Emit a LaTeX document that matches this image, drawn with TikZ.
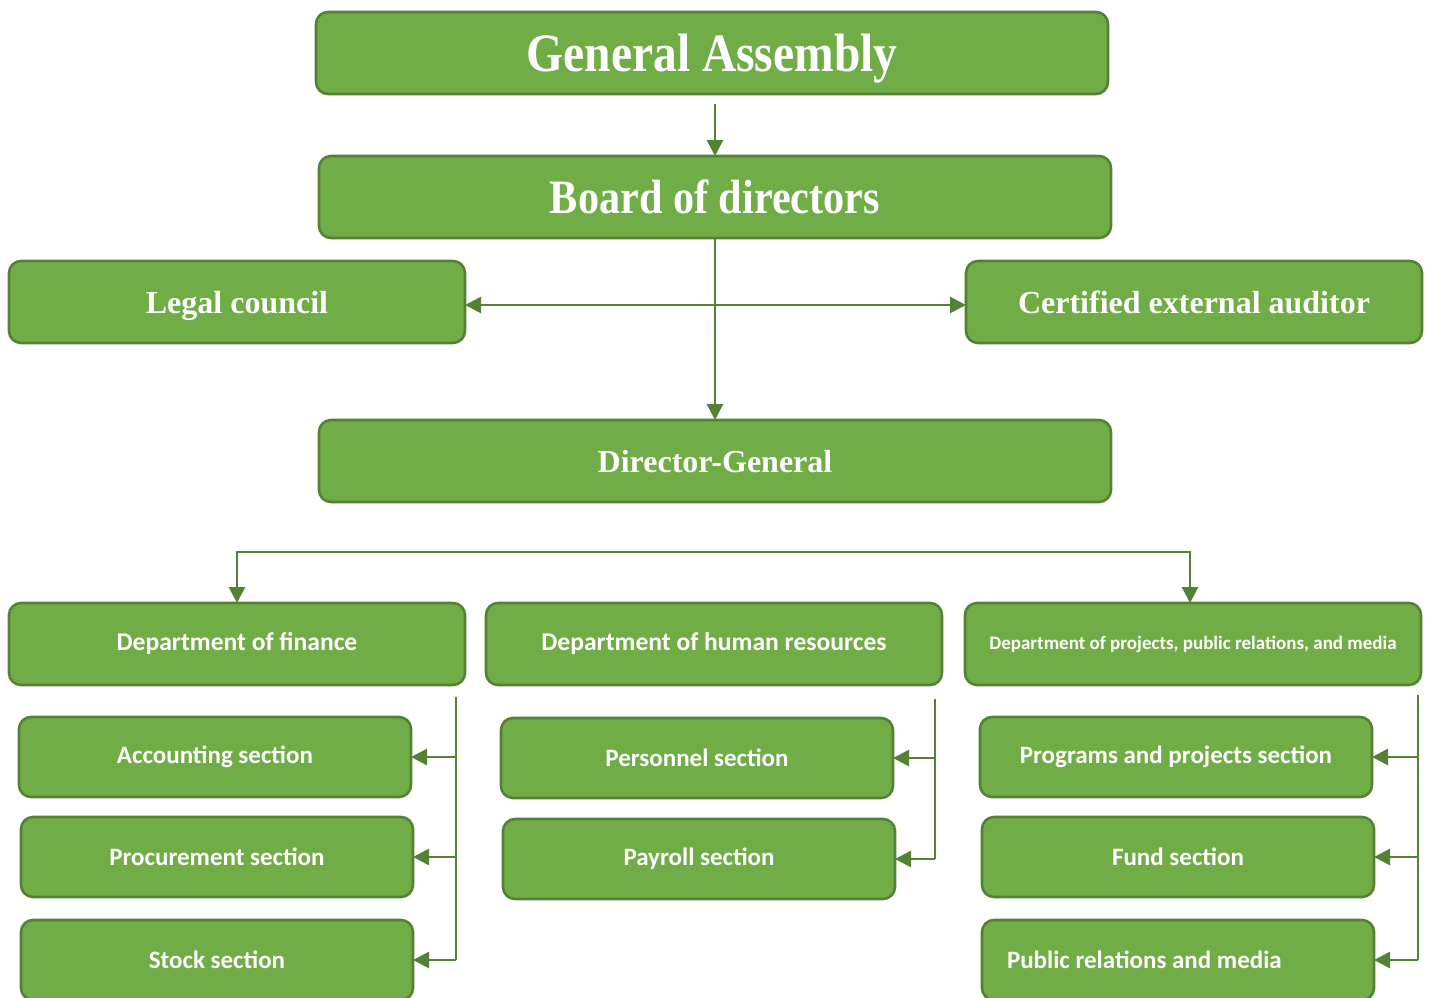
\documentclass[tikz,border=0pt]{standalone}
\usepackage{fontspec}
\setmainfont{Liberation Serif}
\newfontfamily\narrowserif[FakeStretch=0.88]{Liberation Serif}
\newfontfamily\secfont{Carlito}
\usetikzlibrary{arrows.meta}
\definecolor{boxgreen}{HTML}{70AD47}
\definecolor{linegreen}{HTML}{548235}
\tikzset{
  box/.style={draw=linegreen, fill=boxgreen, line width=1.3pt, rounded corners=6pt,
    text=white, font=\bfseries, outer sep=0pt, minimum height=41pt},
  top/.style={box, text depth=0pt, font=\narrowserif\bfseries\fontsize{#1}{#1}\selectfont},
  mid/.style={box, text depth=0pt, font=\bfseries\fontsize{16}{20}\selectfont},
  dept/.style={box, font=\secfont\bfseries\fontsize{#1}{#1}\selectfont, minimum width=228pt},
  sect/.style={box, font=\secfont\bfseries\fontsize{12.5}{15}\selectfont, minimum width=196pt, minimum height=40pt},
  link/.style={draw=linegreen, line width=1.4pt},
  tip/.style={Triangle[length=8pt,width=8pt]},
  arr/.style={link, -{Triangle[length=8pt,width=8pt]}},
  twoarr/.style={link, {Triangle[length=8pt,width=8pt]}-{Triangle[length=8pt,width=8pt]}}
}
\begin{document}
\begin{tikzpicture}[x=0.5pt,y=-0.5pt]
  \useasboundingbox (0,0) rectangle (1430,997);
  \node[top=27, minimum width=396pt] (ga) at (712,53) {General Assembly};
  \node[top=24, minimum width=396pt] (board) at (715,197) {Board of directors};
  \node[mid, minimum width=228pt] (legal) at (237,302) {Legal council};
  \node[mid, minimum width=228pt] (auditor) at (1194,302) {Certified external auditor};
  \node[mid, minimum width=396pt] (dg) at (715,461) {Director-General};

  \node[dept=12.8] (finance) at (237,644) {Department of finance};
  \node[dept=12.8] (hr) at (714,644) {Department of human resources};
  \node[dept=9.5] (projects) at (1193,644) {Department of projects, public relations, and media};

  \node[sect] (acc) at (215,757) {Accounting section};
  \node[sect] (proc) at (217,857) {Procurement section};
  \node[sect] (stock) at (217,960) {Stock section};
  \node[sect] (personnel) at (697,758) {Personnel section};
  \node[sect] (payroll) at (699,859) {Payroll section};
  \node[sect] (programs) at (1176,757) {Programs and projects section};
  \node[sect] (fund) at (1178,857) {Fund section};
  \node[sect, text width=171pt, inner xsep=12.5pt, align=flush left] (pr) at (1178,960) {Public relations and media};

  \draw[arr, shorten <=5pt] (board.north |- ga.south) -- (board.north);
  \draw[arr] (board.south) -- (dg.north);
  \coordinate (sidebus) at (715,305);
  \draw[twoarr] (legal.east |- sidebus) -- (auditor.west |- sidebus);

  \coordinate (deptbus) at (1190,552);
  \draw[twoarr] (finance.north) |- (deptbus) -- (deptbus |- projects.north);

  \coordinate (finbus) at (456,697);
  \coordinate (hrbus) at (935,699);
  \coordinate (projbus) at (1418,695);
  \draw[link] (finbus) -- (finbus |- stock.east);
  \draw[link] (hrbus) -- (hrbus |- payroll.east);
  \draw[link] (projbus) -- (projbus |- pr.east);
  \foreach \s in {acc, proc, stock}
    \draw[arr] (finbus |- \s.east) -- (\s.east);
  \foreach \s in {personnel, payroll}
    \draw[arr] (hrbus |- \s.east) -- (\s.east);
  \foreach \s in {programs, fund, pr}
    \draw[arr] (projbus |- \s.east) -- (\s.east);
\end{tikzpicture}
\end{document}
